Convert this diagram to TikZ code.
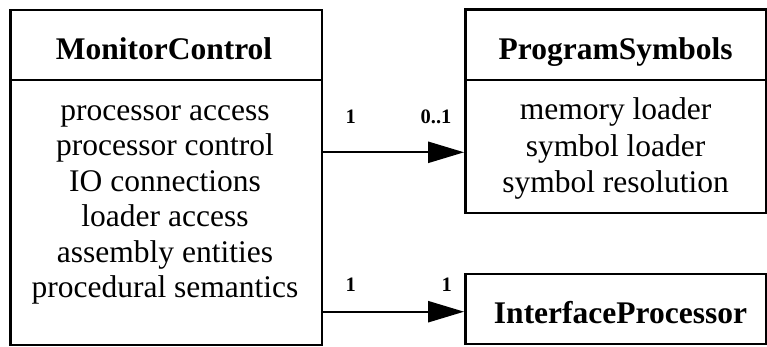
\documentclass[tikz,border=0pt]{standalone}
\usepackage{fontspec}
\setmainfont{Liberation Serif}
\usetikzlibrary{arrows.meta}
\begin{document}
\begin{tikzpicture}[x=1pt,y=-1pt,
  classbox/.style={draw,line width=2.4pt,inner sep=0pt},
  classname/.style={anchor=base,inner sep=0pt,font=\fontsize{31.5}{35.5}\selectfont\bfseries},
  members/.style={anchor=base,inner sep=0pt,align=center,font=\fontsize{31.5}{35.5}\selectfont},
  mult/.style={anchor=base,inner sep=0pt,font=\fontsize{20.5}{24}\selectfont\bfseries},
  divider/.style={line width=2.4pt},
  assoc/.style={line width=2.4pt,-{Triangle[length=36pt,width=21pt]}}]
  \useasboundingbox (0,0) rectangle (767,347);

  % class boxes
  \node[classbox,minimum width=311.7pt,minimum height=334.4pt] (mc) at (166.15,177.5) {};
  \node[classbox,minimum width=300.7pt,minimum height=203.3pt] (ps) at (615.65,111.35) {};
  \node[classbox,minimum width=300.7pt,minimum height=69.7pt] (ip) at (615.65,308.85) {};

  % compartment dividers
  \coordinate (div) at (0,80.3);
  \draw[divider] (mc.west |- div) -- (mc.east |- div);
  \draw[divider] (ps.west |- div) -- (ps.east |- div);

  % names and members (member lists are placed by their last baseline)
  \node[classname] (mcname) at (164,59.3) {MonitorControl};
  \node[members] (mcbody) at (165,297.5) {processor access\\processor control\\IO connections\\loader access\\assembly entities\\procedural semantics};
  \node[classname] (psname) at (615.65,60) {ProgramSymbols};
  \node[members,font=\fontsize{31.5}{36.3}\selectfont] (psbody) at (615.65,192.6) {memory loader\\symbol loader\\symbol resolution};
  \node[classname] (ipname) at (620.5,323.3) {InterfaceProcessor};

  % associations
  \coordinate (r1) at (0,152.3);
  \coordinate (r2) at (0,311.7);
  \draw[assoc] (mc.east |- r1) -- (ps.west |- r1);
  \draw[assoc] (mc.east |- r2) -- (ip.west |- r2);

  % multiplicities
  \node[mult] (m1a) at (350.7,124) {1};
  \node[mult] (m1b) at (436,124) {0..1};
  \node[mult] (m2a) at (350.7,291.7) {1};
  \node[mult] (m2b) at (446.7,291.7) {1};
\end{tikzpicture}
\end{document}
